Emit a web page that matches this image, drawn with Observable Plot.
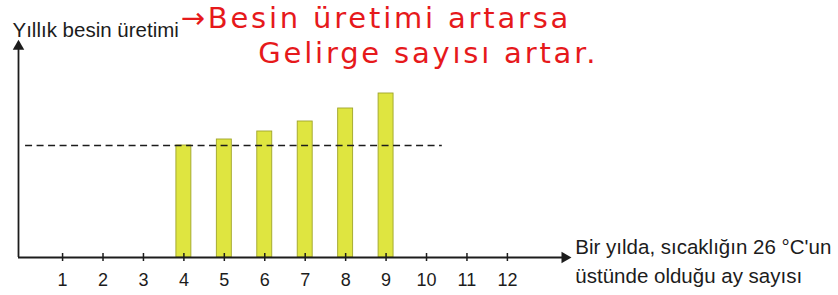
<!DOCTYPE html>
<html>
<head>
<meta charset="utf-8">
<script src="https://cdn.jsdelivr.net/npm/d3@7"></script>
<script src="https://cdn.jsdelivr.net/npm/@observablehq/plot@0.6"></script>
<style>
  body { margin: 0; background: #fff; }
  .note text { letter-spacing: 2.8px; }
</style>
</head>
<body>
<div id="chart"></div>
<script>
// Data
const months = [1, 2, 3, 4, 5, 6, 7, 8, 9, 10, 11, 12];
const barMonths = [4, 5, 6, 7, 8, 9];
const production = [112, 118, 126, 136, 149, 164];
const averageLevel = 112;
const yLabel = "Yıllık besin üretimi";
const xLabel = "Bir yılda, sıcaklığın 26 °C'un\nüstünde olduğu ay sayısı";
const note1 = "→Besin üretimi artarsa";
const note2 = "Gelirge sayısı artar.";

const bars = barMonths.map((m, i) => ({ m, v: production[i] }));
const axisX0 = -0.09;
const axisXEnd = 13.5;
const yTop = 215;

const ink = "#1c1c1c";
const font = "'Liberation Sans', Arial, sans-serif";
const red = "#e6191b";

const chart = Plot.plot({
  width: 838,
  height: 295,
  marginLeft: 18,
  marginRight: 266,
  marginTop: 40,
  marginBottom: 38,
  style: { fontFamily: font, background: "#fff", overflow: "visible" },
  x: { domain: [axisX0, 13.61], axis: null },
  y: { domain: [0, 217], axis: null },
  marks: [
    // bars
    Plot.rectY(bars, {
      x1: d => d.m - 0.185, x2: d => d.m + 0.185, y1: 0, y2: "v",
      fill: "#dfe540", stroke: "#9fa42a", strokeWidth: 0.9
    }),
    // dashed average line
    Plot.ruleY([averageLevel], {
      x1: 0.085, x2: 10.39, stroke: ink, strokeWidth: 1.6, strokeDasharray: "7,4.5"
    }),
    // axes
    Plot.ruleY([0], { x1: axisX0, x2: axisXEnd - 0.1, stroke: ink, strokeWidth: 1.8 }),
    Plot.ruleX([axisX0], { y1: 0, y2: yTop - 4, stroke: ink, strokeWidth: 1.8 }),
    Plot.dot([{ x: axisXEnd - 0.08, y: 0 }], {
      x: "x", y: "y", symbol: "triangle2", r: 5.5, rotate: 90, fill: ink, stroke: "none"
    }),
    Plot.dot([{ x: axisX0, y: yTop - 4 }], {
      x: "x", y: "y", symbol: "triangle2", r: 5.5, rotate: 0, fill: ink, stroke: "none"
    }),
    // ticks
    Plot.ruleX(months, { x: d => d, y1: -4, y2: 4, stroke: ink, strokeWidth: 1.5 }),
    Plot.text(months, {
      x: d => d, y: 0, dy: 23, text: d => String(d), fontSize: 18, fill: ink
    }),
    // axis labels
    Plot.text([yLabel], {
      x: axisX0, y: yTop, dx: -6, dy: -12, text: d => d,
      textAnchor: "start", fontSize: 20.5, fill: ink
    }),
    Plot.text([xLabel], {
      x: 13.68, y: 0, dy: 1.5, text: d => d, textAnchor: "start",
      fontSize: 20.5, lineHeight: 1.42, fill: ink
    }),
    // handwritten red annotation
    Plot.text([note1], {
      x: 3.92, y: yTop, dy: -24, text: d => d, textAnchor: "start",
      fontSize: 29, fill: red, fontFamily: "'DejaVu Sans', sans-serif", className: "note"
    }),
    Plot.text([note2], {
      x: 5.84, y: yTop, dy: 11, text: d => d, textAnchor: "start",
      fontSize: 29, fill: red, fontFamily: "'DejaVu Sans', sans-serif", className: "note"
    })
  ]
});

document.getElementById("chart").appendChild(chart);
</script>
</body>
</html>
